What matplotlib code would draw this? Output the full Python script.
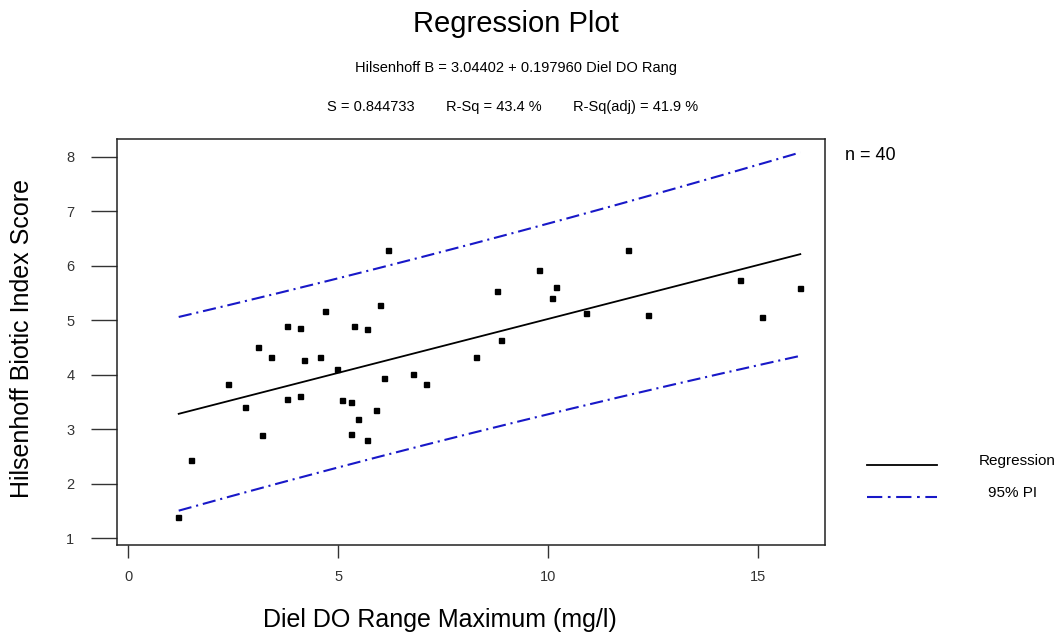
import numpy as np
import matplotlib
matplotlib.use("Agg")
import matplotlib.pyplot as plt
from matplotlib.lines import Line2D

plt.rcParams["font.family"] = ["Liberation Sans", "DejaVu Sans"]
plt.rcParams["lines.scale_dashes"] = False

# Data
diel_do_range = [1.19, 1.49, 2.38, 2.79, 3.08, 3.18, 3.39, 3.78, 3.78, 4.09,
                 4.09, 4.19, 4.57, 4.68, 4.98, 5.09, 5.30, 5.30, 5.37, 5.48,
                 5.68, 5.68, 5.89, 5.99, 6.10, 6.18, 6.79, 7.08, 8.29, 8.78,
                 8.88, 9.79, 10.09, 10.19, 10.89, 11.89, 12.38, 14.57, 15.09, 15.99]
hilsenhoff = [1.39, 2.43, 3.83, 3.41, 4.50, 2.89, 4.32, 4.90, 3.56, 4.85,
              3.61, 4.26, 4.32, 5.16, 4.10, 3.53, 3.50, 2.91, 4.90, 3.18,
              4.83, 2.81, 3.36, 5.27, 3.94, 6.28, 4.02, 3.83, 4.32, 5.54,
              4.64, 5.92, 5.41, 5.60, 5.13, 6.28, 5.09, 5.74, 5.05, 5.59]

# fit summary as printed on the chart
intercept = 3.04402
slope = 0.197960
s_err = 0.844733
r_sq = 43.4
r_sq_adj = 41.9
t_crit = 2.024  # t(0.975, 38)

x = np.array(diel_do_range)
y = np.array(hilsenhoff)
n = len(x)

# regression line and 95% prediction interval
xs = np.linspace(1.2, 16.0, 200)
fit = intercept + slope * xs
sxx = np.sum((x - x.mean()) ** 2)
half = t_crit * s_err * np.sqrt(1 + 1 / n + (xs - x.mean()) ** 2 / sxx)

fig = plt.figure(figsize=(10.62, 6.38), dpi=100)
ax = fig.add_axes([0.1099, 0.1458, 0.6672, 0.6364])

pi_color = "#1818c8"
pi_dash = (9.5, 3.5, 1.5, 3.5)
ax.plot(xs, fit, color="black", lw=1.3)
ax.plot(xs, fit + half, color=pi_color, lw=1.5, dashes=pi_dash)
ax.plot(xs, fit - half, color=pi_color, lw=1.5, dashes=pi_dash)
ax.plot(x, y, "s", color="black", ms=3.6)

ax.set_xlim(-0.276, 16.595)
ax.set_ylim(0.875, 8.325)
ax.set_xticks([0, 5, 10, 15])
ax.set_yticks(range(1, 9))
for sp in ax.spines.values():
    sp.set_linewidth(1.1)
    sp.set_color("#222222")
ax.tick_params(axis="y", length=18.5, width=1.0, pad=12, labelsize=10.5,
               colors="#333333")
ax.tick_params(axis="x", length=9.5, width=1.0, pad=8.5, labelsize=10.5,
               colors="#333333")

# titles and axis labels
fig.text(0.486, 0.962, "Regression Plot", ha="center", va="center", fontsize=21)
fig.text(0.486, 0.893, f"Hilsenhoff B = {intercept:.5f} + {slope:.6f} Diel DO Rang",
         ha="center", va="center", fontsize=10.5)
fig.text(327 / 1062, 0.832, f"S = {s_err:.6f}", ha="left", va="center", fontsize=10.5)
fig.text(446 / 1062, 0.832, f"R-Sq = {r_sq:.1f} %", ha="left", va="center", fontsize=10.5)
fig.text(573 / 1062, 0.832, f"R-Sq(adj) = {r_sq_adj:.1f} %", ha="left", va="center",
         fontsize=10.5)
fig.text(440 / 1062, 1 - 620 / 638, "Diel DO Range Maximum (mg/l)", ha="center",
         va="center", fontsize=18)
fig.text(22 / 1062, 1 - 338 / 638, "Hilsenhoff Biotic Index Score", ha="center",
         va="center", rotation=90, fontsize=18)
fig.text(845 / 1062, 1 - 155 / 638, f"n = {n}", ha="left", va="center", fontsize=13)

# legend drawn at the right of the plot
fig.add_artist(Line2D([867 / 1062, 937 / 1062], [1 - 465 / 638] * 2,
                      transform=fig.transFigure, color="black", lw=1.3))
fig.add_artist(Line2D([867 / 1062, 937 / 1062], [1 - 497 / 638] * 2,
                      transform=fig.transFigure, color=pi_color, lw=1.5,
                      dashes=(11, 4, 2, 4)))
fig.text(1017 / 1062, 1 - 461 / 638, "Regression", ha="center", va="center", fontsize=11)
fig.text(1013 / 1062, 1 - 493 / 638, "95% PI", ha="center", va="center", fontsize=11)

fig.savefig("out.png", dpi=100)
